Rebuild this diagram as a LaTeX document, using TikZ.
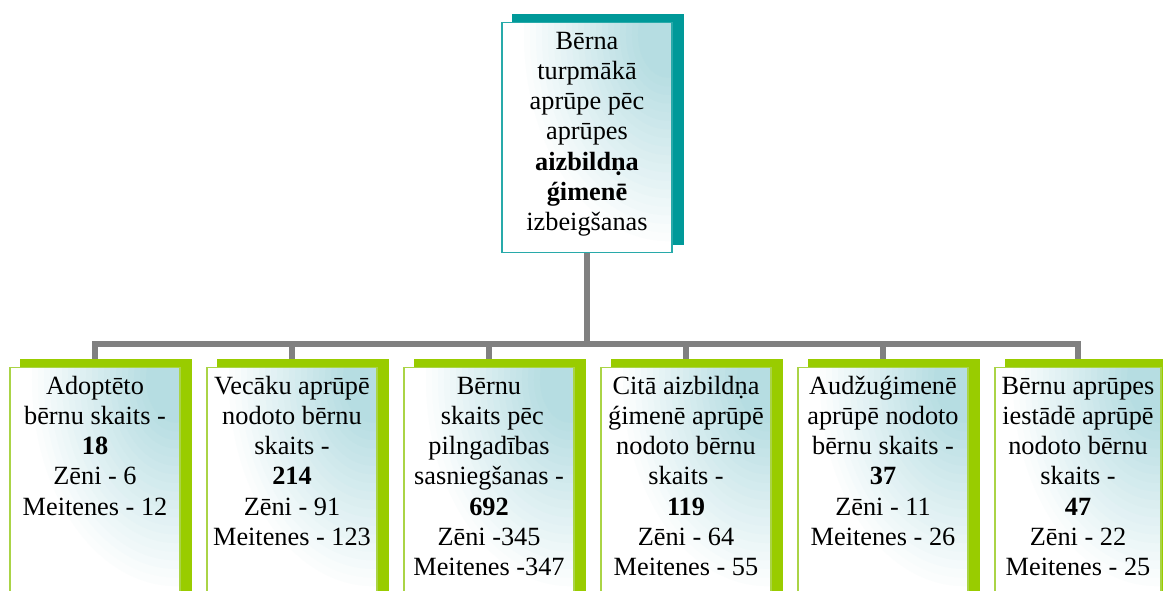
\documentclass[tikz,border=0pt]{standalone}
\usepackage{fontspec}
\setmainfont{Liberation Serif}
\usetikzlibrary{backgrounds,calc}
\definecolor{tealdark}{RGB}{0,153,153}
\definecolor{tealline}{RGB}{40,170,170}
\definecolor{tealfill}{RGB}{182,221,226}
\definecolor{greendark}{RGB}{153,204,0}
\definecolor{greenline}{RGB}{170,212,70}
\definecolor{conngray}{RGB}{128,128,128}
\tikzset{
  boxbase/.style={rectangle, inner sep=0pt, line width=1.3pt, fill=white, anchor=north,
    path picture={
      \coordinate (pp) at ([xshift=-4pt,yshift=-12pt]path picture bounding box.north east);
      \foreach \s in {1.00,0.96,...,0.02} {
        \pgfmathsetmacro\p{min(100,100*(1-\s)/0.8)}
        \fill[tealfill!\p!white] (pp) ellipse [x radius=150*\s, y radius=215*\s];
      }}},
  topbox/.style={boxbase, draw=tealline, minimum width=170pt, minimum height=230pt},
  childbox/.style={boxbase, draw=greenline, minimum width=170pt, minimum height=245pt},
  lbl/.style={align=center, inner sep=0pt, anchor=north,
    font=\fontsize{26.3}{30.2}\selectfont},
  conn/.style={draw=conngray, line width=6.5pt},
  tshadow/.style={fill=tealdark},
  gshadow/.style={fill=greendark}
}
\begin{document}
\begin{tikzpicture}[x=1pt,y=-1pt]
\useasboundingbox (0,0) rectangle (1163,591);
% top box
\node[topbox] (t) at (587,22) {};
\node[lbl] (tt) at (587,28) {\strut B\=erna\\turpm\=ak\=a\\apr\=upe p\=ec\\apr\=upes\\\textbf{aizbild\d{n}a}\\\textbf{\'gimen\=e}\\izbeig\v{s}anas};
% children
\node[childbox] (c1) at (95,367) {};
\node[childbox] (c2) at (292,367) {};
\node[childbox] (c3) at (489,367) {};
\node[childbox] (c4) at (686,367) {};
\node[childbox] (c5) at (883,367) {};
\node[childbox, minimum width=166pt] (c6) at (1078,367) {};
\node[lbl] (c1t) at (95,373) {\strut Adopt\=eto\\b\=ernu skaits -\\\textbf{18}\\Z\=eni - 6\\Meitenes - 12};
\node[lbl] (c2t) at (292,373) {\strut Vec\=aku apr\=up\=e\\nodoto b\=ernu\\skaits -\\\textbf{214}\\Z\=eni - 91\\Meitenes - 123};
\node[lbl] (c3t) at (489,373) {\strut B\=ernu\\\ skaits p\=ec\\pilngad\=ibas\\sasnieg\v{s}anas -\\\textbf{692}\\Z\=eni -345\\Meitenes -347};
\node[lbl] (c4t) at (686,373) {\strut Cit\=a aizbild\d{n}a\\\'gimen\=e apr\=up\=e\\nodoto b\=ernu\\skaits -\\\textbf{119}\\Z\=eni - 64\\Meitenes - 55};
\node[lbl] (c5t) at (883,373) {\strut Aud\v{z}u\'gimen\=e\\apr\=up\=e nodoto\\b\=ernu skaits -\\\textbf{37}\\Z\=eni - 11\\Meitenes - 26};
\node[lbl] (c6t) at (1078,373) {\strut B\=ernu apr\=upes\\iest\=ad\=e apr\=up\=e\\nodoto b\=ernu\\skaits -\\\textbf{47}\\Z\=eni - 22\\Meitenes - 25};
\begin{scope}[on background layer]
  \coordinate (bus) at (587,344);
  \draw[conn] (t.south) -- (bus);
  \foreach \c in {c1,c2,c3,c4,c5,c6} {
    \draw[conn] (bus) -| (\c.north);
  }
  \fill[tshadow] ($(t.north west)+(11,-8)$) rectangle ($(t.south east)+(11,-8)$);
  \foreach \c in {c1,c2,c3,c4,c5,c6} {
    \fill[gshadow] ($(\c.north west)+(11,-8)$) rectangle ($(\c.south east)+(11,-8)$);
  }
\end{scope}
\end{tikzpicture}
\end{document}
